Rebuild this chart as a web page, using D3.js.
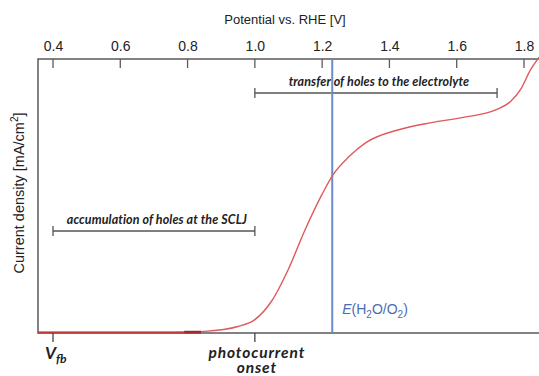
<!DOCTYPE html>
<html>
<head>
<meta charset="utf-8">
<script src="https://cdn.jsdelivr.net/npm/d3@7"></script>
<style>
  body { margin: 0; background: #fff; }
  svg { display: block; }
  .ann { font-family: Lato, "Open Sans", sans-serif; font-style: italic; font-weight: bold; fill: #222; }
</style>
</head>
<body>
<svg id="chart" width="539" height="376"></svg>
<script>
// potential [V] vs current density (arbitrary units)
var potential = [0.36, 0.50, 0.65, 0.75, 0.85, 0.95, 1.00, 1.05, 1.10, 1.15, 1.20, 1.233, 1.28, 1.33, 1.43, 1.525, 1.62, 1.72, 1.76, 1.79, 1.82, 1.845];
var current   = [0.0, 0.0, 0.0, 0.0, 0.004, 0.022, 0.047, 0.115, 0.232, 0.377, 0.505, 0.577, 0.642, 0.693, 0.741, 0.766, 0.785, 0.814, 0.843, 0.887, 0.96, 1.005];
var tickValues = [0.4, 0.6, 0.8, 1.0, 1.2, 1.4, 1.6, 1.8];
var eRedox = 1.23;
var vFb = 0.4, vOnset = 1.0;
var accumRange = [0.4, 1.0];
var transferRange = [1.0, 1.72];

var svg = d3.select("#chart");
var plotLeft = 38, plotTop = 59, plotBottom = 333;

var x = d3.scaleLinear().domain([0.4, 1.8]).range([53, 524]);
var y = d3.scaleLinear().domain([0, 1]).range([plotBottom, plotTop]);
var xMin = x.invert(plotLeft);

// frame
var frameColor = "#5a5a5a";
svg.append("path")
  .attr("d", "M545," + plotTop + "H" + plotLeft + "V" + plotBottom + "H545")
  .attr("fill", "none").attr("stroke", frameColor).attr("stroke-width", 1.5);

// top axis
var axisTop = d3.axisTop(x).tickValues(tickValues).tickFormat(d3.format(".1f")).tickSize(0).tickPadding(10);
var gx = svg.append("g").attr("transform", "translate(0," + (plotTop + 2) + ")").call(axisTop);
gx.select(".domain").remove();
gx.selectAll("text").attr("font-family", "'Liberation Sans', Arial, sans-serif").attr("font-size", 14).attr("fill", "#222");
svg.selectAll(".tk").data(tickValues).enter().append("line")
  .attr("x1", function(d){ return x(d); }).attr("x2", function(d){ return x(d); })
  .attr("y1", plotTop).attr("y2", plotTop + 9)
  .attr("stroke", frameColor).attr("stroke-width", 1.3);

svg.append("text").attr("x", 285).attr("y", 24).attr("text-anchor", "middle")
  .attr("font-family", "'Liberation Sans', Arial, sans-serif").attr("font-size", 13).attr("fill", "#222")
  .text("Potential vs. RHE [V]");

// y label
var yl = svg.append("text").attr("transform", "translate(24,193) rotate(-90)").attr("text-anchor", "middle")
  .attr("font-family", "'Liberation Sans', Arial, sans-serif").attr("font-size", 14.5).attr("fill", "#222");
yl.append("tspan").text("Current density [mA/cm");
yl.append("tspan").attr("dy", -6).attr("font-size", 10).text("2");
yl.append("tspan").attr("dy", 6).text("]");

// brackets
function bracket(range, yy, label) {
  var g = svg.append("g");
  g.append("line").attr("x1", x(range[0])).attr("x2", x(range[1])).attr("y1", yy).attr("y2", yy)
    .attr("stroke", "#555").attr("stroke-width", 1.3);
  range.forEach(function(v){
    g.append("line").attr("x1", x(v)).attr("x2", x(v)).attr("y1", yy - 5).attr("y2", yy + 5)
      .attr("stroke", "#555").attr("stroke-width", 1.3);
  });
  g.append("text").attr("class", "ann").attr("x", (x(range[0]) + x(range[1])) / 2 + 3).attr("y", yy - 7)
    .attr("text-anchor", "middle").attr("font-size", 12.5).attr("letter-spacing", 0.1).text(label);
}
bracket(transferRange, 93, "transfer of holes to the electrolyte");
bracket(accumRange, 231, "accumulation of holes at the SCLJ");

// E(H2O/O2) line
svg.append("line").attr("x1", x(eRedox)).attr("x2", x(eRedox)).attr("y1", plotTop).attr("y2", plotBottom)
  .attr("stroke", "#6a8cca").attr("stroke-width", 2);
var el = svg.append("text").attr("x", x(eRedox) + 10).attr("y", 314)
  .attr("font-family", "'Liberation Sans', Arial, sans-serif").attr("font-size", 14).attr("fill", "#4a6db5");
el.append("tspan").attr("font-style", "italic").text("E");
el.append("tspan").text("(H");
el.append("tspan").attr("dy", 4).attr("font-size", 10).text("2");
el.append("tspan").attr("dy", -4).text("O/O");
el.append("tspan").attr("dy", 4).attr("font-size", 10).text("2");
el.append("tspan").attr("dy", -4).text(")");

// curve
var data = potential.map(function(p, i){ return [p, current[i]]; });
data[0][0] = xMin;
var line = d3.line().x(function(d){ return x(d[0]); }).y(function(d){ return y(d[1]) - 0.5; }).curve(d3.curveMonotoneX);
svg.append("path").datum(data).attr("d", line)
  .attr("fill", "none").attr("stroke", "#e0595c").attr("stroke-width", 1.4);
// darker thick part at the foot
svg.append("line").attr("x1", x(xMin)).attr("x2", x(0.84)).attr("y1", plotBottom - 0.5).attr("y2", plotBottom - 0.5)
  .attr("stroke", "#c0393c").attr("stroke-width", 2.2);
svg.append("line").attr("x1", x(0.79)).attr("x2", x(0.84)).attr("y1", plotBottom - 1).attr("y2", plotBottom - 1)
  .attr("stroke", "#a02a2d").attr("stroke-width", 2.5);

// bottom ticks + labels
[vFb, vOnset].forEach(function(v){
  svg.append("line").attr("x1", x(v)).attr("x2", x(v)).attr("y1", plotBottom).attr("y2", plotBottom + 9)
    .attr("stroke", "#444").attr("stroke-width", 1.3);
});
var vf = svg.append("text").attr("class", "ann").attr("x", x(vFb) - 8).attr("y", 359).attr("font-size", 17);
vf.append("tspan").text("V");
vf.append("tspan").attr("dy", 4).attr("font-size", 12).text("fb");
svg.append("text").attr("class", "ann").attr("x", x(vOnset) + 2).attr("y", 358).attr("text-anchor", "middle")
  .attr("font-size", 15.5).attr("letter-spacing", 0.9).text("photocurrent");
svg.append("text").attr("class", "ann").attr("x", x(vOnset) + 2).attr("y", 373).attr("text-anchor", "middle")
  .attr("font-size", 15.5).attr("letter-spacing", 0.9).text("onset");
</script>
</body>
</html>
